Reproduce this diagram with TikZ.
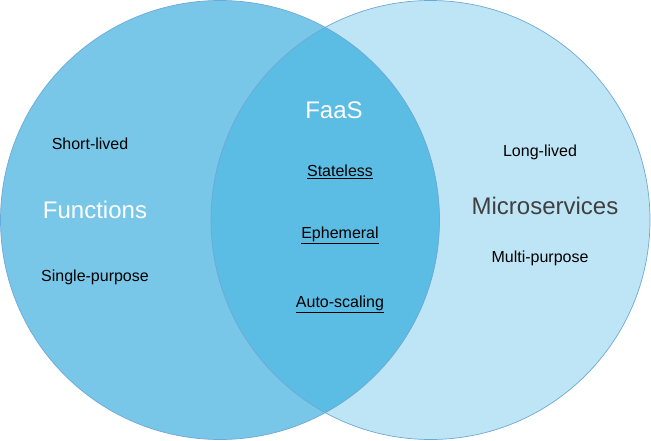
\documentclass[tikz,border=0pt]{standalone}
\usepackage{fontspec}
\setmainfont{Liberation Sans}
\definecolor{leftfill}{RGB}{120,199,232}
\definecolor{rightfill}{RGB}{190,229,245}
\definecolor{overlapfill}{RGB}{91,188,228}
\definecolor{rim}{RGB}{110,168,215}
\definecolor{darktext}{RGB}{64,64,64}
\tikzset{
  small/.style={font=\fontsize{16}{19}\selectfont, text=black, inner sep=0pt},
  big/.style={font=\fontsize{24}{28}\selectfont, inner sep=0pt},
  rimline/.style={draw=rim, line width=0.7pt}
}
\begin{document}
\begin{tikzpicture}[x=1pt,y=-1pt]
\useasboundingbox (0,0) rectangle (651,440);
\coordinate (lc) at (220,220);
\coordinate (rc) at (430.5,220);
\fill[rightfill] (rc) circle (219.5);
\fill[leftfill] (lc) circle (219.5);
\begin{scope}
  \clip (lc) circle (219.5);
  \fill[overlapfill] (rc) circle (219.5);
\end{scope}
\draw[rimline] (rc) circle (219.5);
\draw[rimline] (lc) circle (219.5);

\node[small] (shortlived) at (90,143.5) {Short-lived};
\node[big, text=white] (functions) at (95,209.5) {Functions};
\node[small] (singlepurpose) at (95,277) {Single-purpose};

\node[big, text=white] (faas) at (334,110.5) {FaaS};
\node[small] (stateless) at (340,172) {\underline{Stateless}};
\node[small] (ephemeral) at (340,235) {\underline{Ephemeral}};
\node[small] (autoscaling) at (340,304) {\underline{Auto-scaling}};

\node[small] (longlived) at (540,152.5) {Long-lived};
\node[big, text=darktext] (microservices) at (545,206) {Microservices};
\node[small] (multipurpose) at (540,258) {Multi-purpose};
\end{tikzpicture}
\end{document}
